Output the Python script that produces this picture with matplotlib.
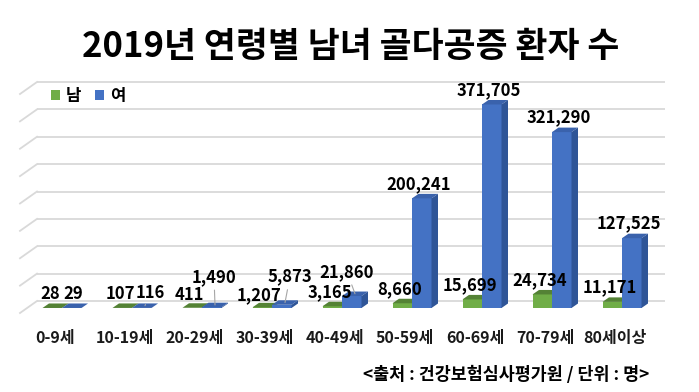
import matplotlib
matplotlib.use("Agg")
import matplotlib.pyplot as plt
from matplotlib.patches import Polygon, Patch

plt.rcParams['font.family'] = ['Noto Sans CJK KR', 'DejaVu Sans']

# ---------------- data ----------------
categories = ['0-9세', '10-19세', '20-29세', '30-39세', '40-49세',
              '50-59세', '60-69세', '70-79세', '80세이상']
male = [28, 107, 411, 1207, 3165, 8660, 15699, 24734, 11171]
female = [29, 116, 1490, 5873, 21860, 200241, 371705, 321290, 127525]
series_names = ['남', '여']
grid_values = [0, 50000, 100000, 150000, 200000, 250000, 300000, 350000, 400000]
title = '2019년 연령별 남녀 골다공증 환자 수'
source = '<출처 : 건강보험심사평가원 / 단위 : 명>'

# ---------------- layout / style ----------------
W, H = 699, 392
K = 219 / 400000.0          # pixels per value unit
BASE = 308                  # pixel row of value 0 (bar front plane)
CAT_PX = 70.0               # pixels per category
X0_PX = 55.0                # pixel column of category 0 centre

def vpx(p):                 # pixel distance -> value units
    return p / K

def xpx(p):                 # pixel distance -> category units
    return p / CAT_PX

green_front, green_top, green_side = '#70AD47', '#548235', '#4E7A30'
blue_front, blue_top, blue_side = '#4472C4', '#3A62AC', '#2F5597'
grid_color = '#D9D9D9'

fig = plt.figure(figsize=(W / 100, H / 100), dpi=100)
ax = fig.add_axes([0, 0, 1, 1])
ax.set_xlim(-X0_PX / CAT_PX, (W - X0_PX) / CAT_PX)
ax.set_ylim(vpx(BASE - H), vpx(BASE))
ax.axis('off')

# back wall gridlines with a short receding segment on the left
back_dy = vpx(7)
for g in grid_values:
    yb = g + back_dy
    ax.plot([xpx(37 - X0_PX), xpx(665 - X0_PX)], [yb, yb],
            color=grid_color, lw=1.3, zorder=1, solid_capstyle='butt')
    ax.plot([xpx(20 - X0_PX), xpx(37 - X0_PX)], [g - vpx(5), yb],
            color=grid_color, lw=1.3, zorder=1)

bar_w = xpx(19.5)
shift = xpx(7)
ddx, ddy = xpx(6.5), vpx(4.5)

def bar3d(xl, v, front, top, side, z):
    ax.bar(xl, v, width=bar_w, align='edge', color=front, zorder=z,
           linewidth=0)
    xr = xl + bar_w
    ax.add_patch(Polygon([(xl, v), (xr, v), (xr + ddx, v + ddy),
                          (xl + ddx, v + ddy)], closed=True,
                         facecolor=top, edgecolor='none', zorder=z))
    ax.add_patch(Polygon([(xr, 0), (xr, v), (xr + ddx, v + ddy),
                          (xr + ddx, ddy)], closed=True,
                         facecolor=side, edgecolor='none', zorder=z))

label_kw = dict(fontsize=12, fontweight='bold', color='black',
                ha='center', va='center', zorder=6,
                textcoords='offset pixels')
default_off = (-6, 10)
# label offsets (pixels) for crowded small bars; leader lines where used
special = {
    (1, 0): ((-2, 9), False),
    (1, 1): ((5, 13), True),
    (1, 2): ((-1, 28), True),
    (1, 3): ((5, 26), True),
    (1, 4): ((-8, 22), True),
}
default_m = {(0, 0): (-5, 9), (0, 1): (-5, 9), (0, 2): (-6, 8), (0, 3): (-7, 8)}

for i in range(len(categories)):
    xl_g = i + shift - bar_w
    xl_b = i + shift
    bar3d(xl_g, male[i], green_front, green_top, green_side, 2)
    bar3d(xl_b, female[i], blue_front, blue_top, blue_side, 3)
    for s, (xl, v) in enumerate([(xl_g, male[i]), (xl_b, female[i])]):
        xy = (xl + bar_w / 2 + ddx / 2, v + ddy)
        off, leader = special.get((s, i), (default_m.get((s, i), default_off), False))
        if leader:
            ax.annotate(f'{v:,}', xy=(xl + bar_w / 2 + ddx / 2, v + ddy * 0.5),
                        xytext=off, arrowprops=dict(arrowstyle='-', color='#A6A6A6',
                                                    lw=0.8, shrinkA=1, shrinkB=0),
                        **label_kw)
        else:
            ax.annotate(f'{v:,}', xy=xy, xytext=off, **label_kw)
    ax.text(i, vpx(BASE - 338), categories[i], fontsize=11.5, fontweight='bold',
            ha='center', va='center', color='#1a1a1a')

handles = [Patch(facecolor=green_front, edgecolor='none'),
           Patch(facecolor=blue_front, edgecolor='none')]
fig.legend(handles, series_names, loc='center left',
           bbox_to_anchor=(51 / W, 1 - 96 / H), ncol=2, frameon=False,
           prop=dict(size=12, weight='bold'), handlelength=0.55,
           handleheight=0.55, handletextpad=0.35, columnspacing=0.8,
           borderpad=0, borderaxespad=0)

fig.text(351 / W, 1 - 47 / H, title, fontsize=25, fontweight='bold',
         ha='center', va='center', color='black')
fig.text(506 / W, 1 - 375 / H, source, fontsize=12.5, fontweight='bold',
         ha='center', va='center', color='black')

fig.savefig('out.png', dpi=100)
